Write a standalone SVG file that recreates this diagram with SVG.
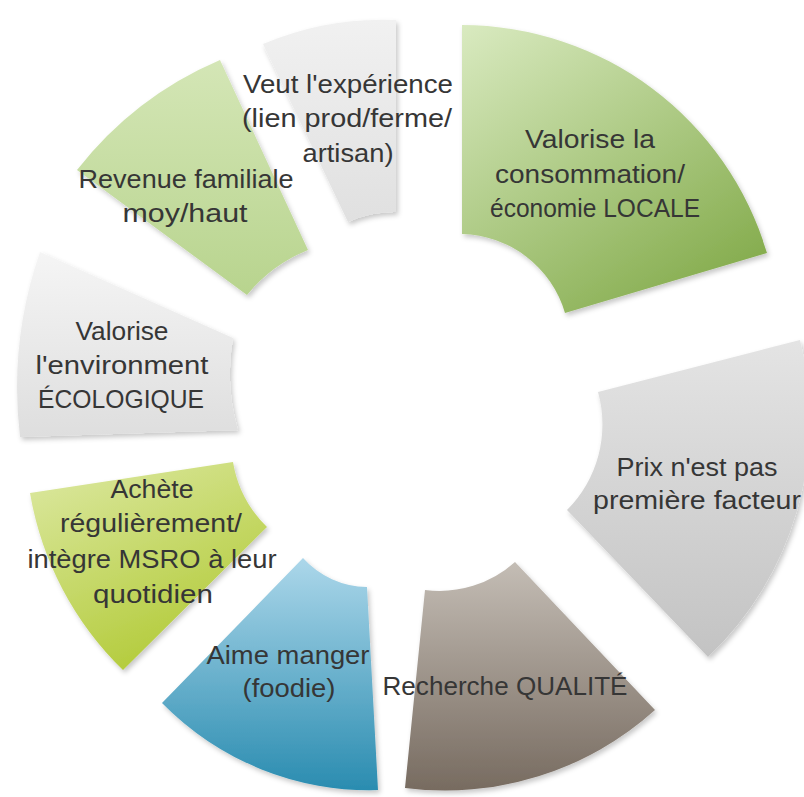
<svg xmlns="http://www.w3.org/2000/svg" width="804" height="797" viewBox="0 0 804 797">
<defs>
<style>
.t{font-family:"Liberation Sans",Arial,sans-serif;font-size:26px;fill:#363636;text-anchor:middle}
.s{filter:url(#sh)}
</style>
<filter id="sh" x="-10%" y="-10%" width="130%" height="130%"><feDropShadow dx="2" dy="3" stdDeviation="2.5" flood-color="#000" flood-opacity="0.22"/></filter>
<linearGradient id="gLocale" x1="0" y1="0" x2="0.7" y2="1"><stop offset="0" stop-color="#d9eac0"/><stop offset="1" stop-color="#86ad4f"/></linearGradient>
<linearGradient id="gPrix" x1="0" y1="0" x2="0" y2="1"><stop offset="0" stop-color="#e4e4e4"/><stop offset="1" stop-color="#c3c3c3"/></linearGradient>
<linearGradient id="gQual" x1="0" y1="0" x2="0" y2="1"><stop offset="0" stop-color="#c4bdb5"/><stop offset="1" stop-color="#776b60"/></linearGradient>
<linearGradient id="gAime" x1="0" y1="0" x2="0" y2="1"><stop offset="0" stop-color="#acd7ea"/><stop offset="1" stop-color="#2a8cb0"/></linearGradient>
<linearGradient id="gAchete" x1="0" y1="0" x2="0.5" y2="1"><stop offset="0" stop-color="#dde9a4"/><stop offset="1" stop-color="#b3cb3a"/></linearGradient>
<linearGradient id="gEco" x1="0" y1="0" x2="0" y2="1"><stop offset="0" stop-color="#f5f5f5"/><stop offset="1" stop-color="#dedede"/></linearGradient>
<linearGradient id="gRev" x1="0" y1="0" x2="0" y2="1"><stop offset="0" stop-color="#d4e6b6"/><stop offset="1" stop-color="#b8d48e"/></linearGradient>
<linearGradient id="gVeut" x1="0" y1="0" x2="0" y2="1"><stop offset="0" stop-color="#f1f1f1"/><stop offset="1" stop-color="#e0e0e0"/></linearGradient>
</defs>
<rect width="804" height="797" fill="#ffffff"/>
<g id="connectors"></g>
<g id="node-locale">
<path class="s" fill="url(#gLocale)" d="M462,25 A319,319 0 0 1 767,253 L565,313 A110,110 0 0 0 462,234 Z"/>
<text class="t" x="590" y="148" textLength="130" lengthAdjust="spacingAndGlyphs">Valorise la</text>
<text class="t" x="590" y="183" textLength="190" lengthAdjust="spacingAndGlyphs">consommation/</text>
<text class="t" x="595" y="217" textLength="210" lengthAdjust="spacingAndGlyphs">économie LOCALE</text>
</g>
<g id="node-prix">
<path class="s" fill="url(#gPrix)" d="M598,392 L800,340 A327,327 0 0 1 708,657 L567,510 A121,121 0 0 0 598,392 Z"/>
<text class="t" x="697" y="476" textLength="161" lengthAdjust="spacingAndGlyphs">Prix n'est pas</text>
<text class="t" x="697" y="509" textLength="208" lengthAdjust="spacingAndGlyphs">première facteur</text>
</g>
<g id="node-qualite">
<path class="s" fill="url(#gQual)" d="M515,562 L655,710 A314,314 0 0 1 405,788 L425,590 A113,113 0 0 0 515,562 Z"/>
<text class="t" x="505" y="695" textLength="245" lengthAdjust="spacingAndGlyphs">Recherche QUALITÉ</text>
</g>
<g id="node-aime">
<path class="s" fill="url(#gAime)" d="M367,587 L378,790 A290,290 0 0 1 162,703 L303,558 A88,88 0 0 0 367,587 Z"/>
<text class="t" x="288" y="664" textLength="163" lengthAdjust="spacingAndGlyphs">Aime manger</text>
<text class="t" x="289" y="697" textLength="93" lengthAdjust="spacingAndGlyphs">(foodie)</text>
</g>
<g id="node-achete">
<path class="s" fill="url(#gAchete)" d="M267,527 L123,670 A322,322 0 0 1 30,493 L233,462 A118,118 0 0 0 267,527 Z"/>
<text class="t" x="152" y="498" textLength="83" lengthAdjust="spacingAndGlyphs">Achète</text>
<text class="t" x="151" y="532" textLength="182" lengthAdjust="spacingAndGlyphs">régulièrement/</text>
<text class="t" x="152" y="568" textLength="249" lengthAdjust="spacingAndGlyphs">intègre MSRO à leur</text>
<text class="t" x="153" y="603" textLength="120" lengthAdjust="spacingAndGlyphs">quotidien</text>
</g>
<g id="node-eco">
<path class="s" fill="url(#gEco)" d="M238,430 L20,437 A415,415 0 0 1 40,252 L233,338 A200,200 0 0 0 238,430 Z"/>
<text class="t" x="122" y="340" textLength="93" lengthAdjust="spacingAndGlyphs">Valorise</text>
<text class="t" x="122" y="374" textLength="173" lengthAdjust="spacingAndGlyphs">l'environment</text>
<text class="t" x="121" y="408" textLength="166" lengthAdjust="spacingAndGlyphs">ÉCOLOGIQUE</text>
</g>
<g id="node-revenue">
<path class="s" fill="url(#gRev)" d="M247,295 L77,170 A362,362 0 0 1 220,60 L308,250 A152,152 0 0 0 247,295 Z"/>
<text class="t" x="186" y="188" textLength="215" lengthAdjust="spacingAndGlyphs">Revenue familiale</text>
<text class="t" x="185" y="222" textLength="125" lengthAdjust="spacingAndGlyphs">moy/haut</text>
</g>
<g id="node-veut">
<path class="s" fill="url(#gVeut)" d="M348,222 L263,44 A305,305 0 0 1 396,20 L396,212 A110,110 0 0 0 348,222 Z"/>
<text class="t" x="348" y="93" textLength="210" lengthAdjust="spacingAndGlyphs">Veut l'expérience</text>
<text class="t" x="347" y="127" textLength="210" lengthAdjust="spacingAndGlyphs">(lien prod/ferme/</text>
<text class="t" x="348" y="162" textLength="91" lengthAdjust="spacingAndGlyphs">artisan)</text>
</g>
</svg>
